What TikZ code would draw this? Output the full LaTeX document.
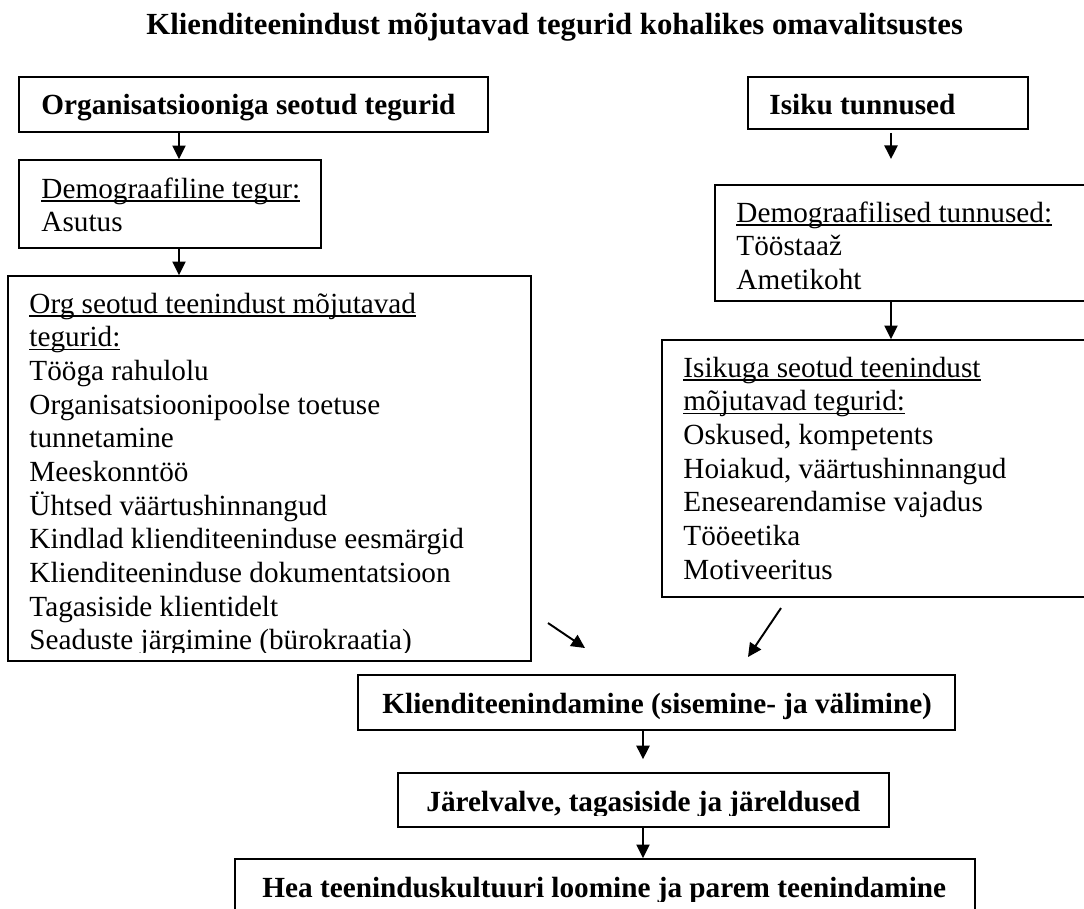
\documentclass[tikz,border=0pt]{standalone}
\usepackage{fontspec}
\setmainfont{Liberation Serif}
\usetikzlibrary{arrows.meta,fit}
\newsavebox\ulbox
\newcommand\ulx[1]{\sbox\ulbox{#1}\rlap{\rule[-1.5pt]{\wd\ulbox}{0.55pt}}\usebox\ulbox}
\newcommand\lns[1]{\vtop{\baselineskip=13.84pt\lineskiplimit=-100pt\lineskip=0pt #1}}
\begin{document}
\begin{tikzpicture}[x=0.4107pt,y=-0.4107pt,
  bx/.style={draw, line width=0.7pt, inner sep=0pt, rectangle},
  txt/.style={inner sep=0pt, anchor=base west, font=\fontsize{12pt}{13.84pt}\selectfont},
  btxt/.style={inner sep=0pt, anchor=base west, font=\fontsize{12pt}{13.84pt}\selectfont\bfseries},
  arr/.style={line width=0.8pt, -{Triangle[length=5.6pt,width=5.4pt]}}]
\useasboundingbox (0,0) rectangle (1084,908);
\clip (0,0) rectangle (1084,908);
\fill[white] (0,0) rectangle (1084,908);

% title
\node[inner sep=0pt, anchor=base west, font=\fontsize{12.6pt}{15pt}\selectfont\bfseries] (title) at (146,34) {Klienditeenindust mõjutavad tegurid kohalikes omavalitsustes};

% left column
\node[bx, fit={(19,77) (488,132)}] (b1) {};
\node[btxt] (t1) at (41,114) {Organisatsiooniga seotud tegurid};
\node[bx, fit={(19,160) (321,248)}] (b2) {};
\node[txt] (t2) at (41,198) {\lns{\hbox{\ulx{Demograafiline tegur:}}\hbox{Asutus}}};
\node[bx, fit={(8,276) (531,661)}] (b3) {};
\begin{scope}
\clip (8,276) rectangle (531,652);
\node[txt] (t3) at (29,313) {\lns{%
\hbox{\ulx{Org seotud teenindust mõjutavad}}%
\hbox{\ulx{tegurid:}}%
\hbox{Tööga rahulolu}%
\hbox{Organisatsioonipoolse toetuse}%
\hbox{tunnetamine}%
\hbox{Meeskonntöö}%
\hbox{Ühtsed väärtushinnangud}%
\hbox{Kindlad klienditeeninduse eesmärgid}%
\hbox{Klienditeeninduse dokumentatsioon}%
\hbox{Tagasiside klientidelt}%
\hbox{Seaduste järgimine (bürokraatia)}}};
\end{scope}

% right column
\node[bx, fit={(748,77) (1028,129)}] (i1) {};
\node[btxt] (ti1) at (769,114) {Isiku tunnused};
\node[bx, fit={(715,185) (1100,301)}] (i2) {};
\node[txt] (ti2) at (736,222) {\lns{\hbox{\ulx{Demograafilised tunnused:}}\hbox{Tööstaaž}\hbox{Ametikoht}}};
\node[bx, fit={(662,340) (1100,597)}] (i3) {};
\node[txt] (ti3) at (683,377) {\lns{%
\hbox{\ulx{Isikuga seotud teenindust}}%
\hbox{\ulx{mõjutavad tegurid:}}%
\hbox{Oskused, kompetents}%
\hbox{Hoiakud, väärtushinnangud}%
\hbox{Enesearendamise vajadus}%
\hbox{Tööeetika}%
\hbox{Motiveeritus}}};

% bottom chain
\node[bx, fit={(358,675) (955,730)}] (k1) {};
\node[btxt] (tk1) at (382,713) {Klienditeenindamine (sisemine- ja välimine)};
\node[bx, fit={(398,773) (889,827)}] (k2) {};
\begin{scope}
\clip (398,773) rectangle (889,815);
\node[btxt] (tk2) at (426,811) {Järelvalve, tagasiside ja järeldused};
\end{scope}
\node[bx, fit={(235,859) (975,960)}] (k3) {};
\begin{scope}
\clip (235,859) rectangle (975,901);
\node[btxt] (tk3) at (262,897) {Hea teeninduskultuuri loomine ja parem teenindamine};
\end{scope}

% connectors
\coordinate (xl) at (179,0);
\coordinate (xr) at (891,0);
\coordinate (xm) at (643,0);
\coordinate (r1e) at (891,159);
\draw[arr] (b1.south -| xl) -- (b2.north -| xl);
\draw[arr] (b2.south -| xl) -- (b3.north -| xl);
\draw[arr, shorten <=1.2pt] (i1.south -| xr) -- (r1e);
\draw[arr] (i2.south -| xr) -- (i3.north -| xr);
\draw[arr, shorten >=5.3pt] (k1.south -| xm) -- (k2.north -| xm);
\draw[arr] (k2.south -| xm) -- (k3.north -| xm);
\coordinate (d1s) at (548,623);
\coordinate (d1e) at (585,648);
\coordinate (d2s) at (781,608);
\coordinate (d2e) at (748,657);
\draw[arr] (d1s) -- (d1e);
\draw[arr] (d2s) -- (d2e);
\end{tikzpicture}
\end{document}
